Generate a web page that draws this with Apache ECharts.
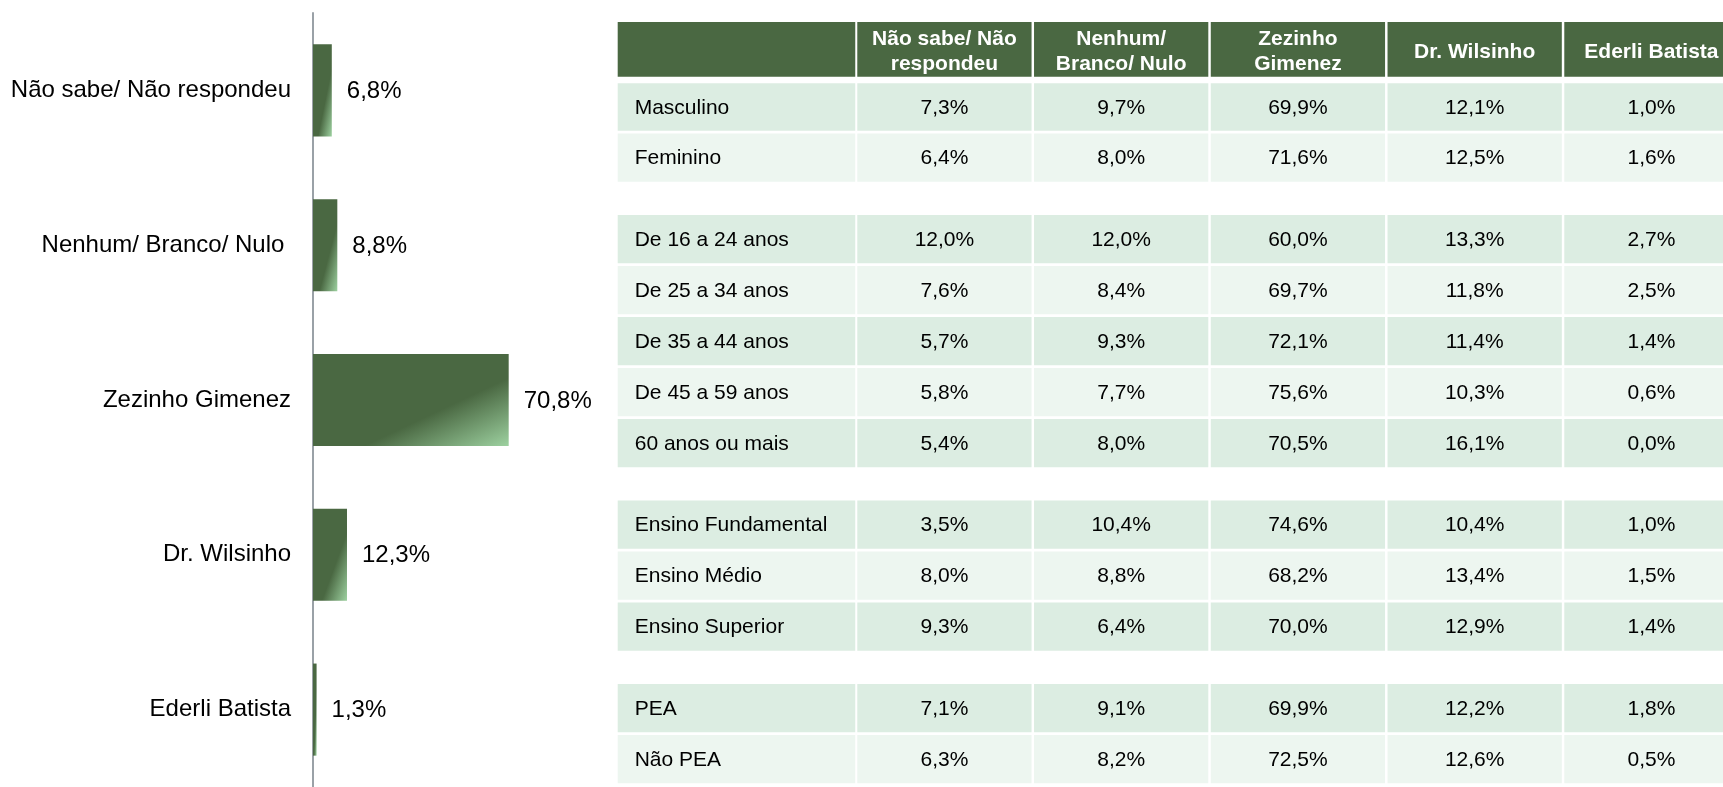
<!DOCTYPE html>
<html>
<head>
<meta charset="utf-8">
<script src="https://cdn.jsdelivr.net/npm/echarts@6/dist/echarts.min.js"></script>
<style>
  html, body { margin: 0; padding: 0; background: #fff; }
  #chart { width: 1723px; height: 787px; }
</style>
</head>
<body>
<div id="chart"></div>
<script>
// intenção de voto - total
const candidates = ['Não sabe/ Não respondeu', 'Nenhum/ Branco/ Nulo ', 'Zezinho Gimenez', 'Dr. Wilsinho', 'Ederli Batista'];
const totals = [6.8, 8.8, 70.8, 12.3, 1.3];

// tabela por segmento
const tableHeader = ['Não sabe/ Não\nrespondeu', 'Nenhum/\nBranco/ Nulo', 'Zezinho\nGimenez', 'Dr. Wilsinho', 'Ederli Batista'];
const rowLabels = ['Masculino', 'Feminino',
  'De 16 a 24 anos', 'De 25 a 34 anos', 'De 35 a 44 anos', 'De 45 a 59 anos', '60 anos ou mais',
  'Ensino Fundamental', 'Ensino Médio', 'Ensino Superior',
  'PEA', 'Não PEA'];
const rowGroup = [0, 0, 1, 1, 1, 1, 1, 2, 2, 2, 3, 3];
const naoSabe  = [7.3, 6.4, 12.0, 7.6, 5.7, 5.8, 5.4, 3.5, 8.0, 9.3, 7.1, 6.3];
const nenhum   = [9.7, 8.0, 12.0, 8.4, 9.3, 7.7, 8.0, 10.4, 8.8, 6.4, 9.1, 8.2];
const zezinho  = [69.9, 71.6, 60.0, 69.7, 72.1, 75.6, 70.5, 74.6, 68.2, 70.0, 69.9, 72.5];
const wilsinho = [12.1, 12.5, 13.3, 11.8, 11.4, 10.3, 16.1, 10.4, 13.4, 12.9, 12.2, 12.6];
const ederli   = [1.0, 1.6, 2.7, 2.5, 1.4, 0.6, 0.0, 1.0, 1.5, 1.4, 1.8, 0.5];

const columns = [naoSabe, nenhum, zezinho, wilsinho, ederli];

const FONT = '"Liberation Sans", Arial, sans-serif';
const DARK = '#4a6842';
const LIGHT = '#9dd1a0';
const BAND_A = '#dcede2';
const BAND_B = '#edf6f0';

function pct(v) {
  return v.toFixed(1).replace('.', ',') + '%';
}

// table layout, x in column pitch units (176.75px), y in row pitch units (51px)
const COL_PX = 176.75, ROW_PX = 51;
const TABLE_LEFT = 617.7, TABLE_W = 1723 - 617.7;
const LABEL_W = 1.344, DATA_X0 = 1.3555, CELL_W = 0.986;
const HEAD_H = 1.0725, ROW0 = 1.186, GROUP_GAP = 0.598, ROW_H = 0.947, ROW_MIN_TOP = 1.2;

const cells = [];
for (let c = -1; c < columns.length; c++) cells.push({ col: c, row: -1 });
rowLabels.forEach((_, r) => {
  for (let c = -1; c < columns.length; c++) cells.push({ col: c, row: r });
});

function cellRect(cell) {
  let x0, x1, y0, y1;
  if (cell.col < 0) { x0 = 0; x1 = LABEL_W; }
  else { x0 = DATA_X0 + cell.col; x1 = x0 + CELL_W; }
  if (cell.row < 0) { y0 = 0; y1 = HEAD_H; }
  else {
    const top = ROW0 + cell.row + rowGroup[cell.row] * GROUP_GAP;
    y1 = top + ROW_H;
    y0 = Math.max(top, ROW_MIN_TOP);
  }
  return { x0, x1, y0, y1 };
}

function firstInGroup(r) {
  let i = r;
  while (i > 0 && rowGroup[i - 1] === rowGroup[r]) i--;
  return r - i;
}

const chart = echarts.init(document.getElementById('chart'));

chart.setOption({
  backgroundColor: '#fff',
  animation: false,
  grid: [
    { left: 313, top: 13, width: 276.4, height: 779 },
    { left: TABLE_LEFT, top: 22, width: TABLE_W, height: 15 * ROW_PX }
  ],
  xAxis: [
    { gridIndex: 0, type: 'value', min: 0, max: 100, show: false },
    { gridIndex: 1, type: 'value', min: 0, max: TABLE_W / COL_PX, show: false }
  ],
  yAxis: [
    {
      gridIndex: 0, type: 'category', inverse: true, data: candidates,
      axisLine: { lineStyle: { color: '#9aa1a7', width: 2 } },
      axisTick: { length: 7, lineStyle: { color: '#9aa1a7', width: 2 } },
      splitLine: { show: false },
      axisLabel: { color: '#000', fontSize: 24, fontFamily: FONT, margin: 22 }
    },
    { gridIndex: 1, type: 'value', inverse: true, min: 0, max: 15, show: false }
  ],
  series: [
    {
      type: 'custom',
      xAxisIndex: 0, yAxisIndex: 0,
      clip: false,
      data: totals.map((v, i) => [v, i]),
      renderItem: function (params, api) {
        const v = api.value(0), idx = api.value(1);
        const s = api.coord([0, idx]);
        const e = api.coord([v, idx]);
        const h = api.size([0, 1])[1] * 0.595;
        const w = e[0] - s[0];
        const x = s[0], y = s[1] - h / 2;
        const L = Math.sqrt(w * w + h * h);
        const k = 2 * w * h / (L * L);
        const grad = new echarts.graphic.LinearGradient(
          x, y, x + h * k, y + w * k,
          [{ offset: 0, color: DARK }, { offset: 0.63, color: DARK }, { offset: 1, color: LIGHT }],
          true
        );
        return {
          type: 'group',
          children: [
            { type: 'rect', shape: { x: x, y: y, width: w, height: h }, style: { fill: grad } },
            {
              type: 'text',
              style: {
                text: pct(v), x: e[0] + 15, y: s[1] + 1,
                verticalAlign: 'middle', align: 'left',
                fontSize: 24, fontFamily: FONT, fill: '#000'
              }
            }
          ]
        };
      }
    },
    {
      type: 'custom',
      xAxisIndex: 1, yAxisIndex: 1,
      clip: false,
      data: cells.map(c => {
        const r = cellRect(c);
        return [(r.x0 + r.x1) / 2, (r.y0 + r.y1) / 2];
      }),
      renderItem: function (params, api) {
        const cell = cells[params.dataIndex];
        const r = cellRect(cell);
        const p0 = api.coord([r.x0, r.y0]);
        const p1 = api.coord([r.x1, r.y1]);
        const header = cell.row < 0;
        let fill, text = '', align = 'center', tx = (p0[0] + p1[0]) / 2;
        let ty = (p0[1] + p1[1]) / 2 + 1;
        if (header) {
          fill = DARK;
          text = cell.col < 0 ? '' : tableHeader[cell.col];
          ty = p0[1] + 30;
        } else {
          fill = firstInGroup(cell.row) % 2 === 0 ? BAND_A : BAND_B;
          if (cell.col < 0) {
            text = rowLabels[cell.row];
            align = 'left';
            tx = p0[0] + 17;
          } else {
            text = pct(columns[cell.col][cell.row]);
          }
        }
        return {
          type: 'group',
          children: [
            { type: 'rect', shape: { x: p0[0], y: p0[1], width: p1[0] - p0[0], height: p1[1] - p0[1] }, style: { fill: fill } },
            {
              type: 'text',
              style: {
                text: text, x: tx, y: ty, align: align, verticalAlign: 'middle',
                fontSize: 21, fontFamily: FONT,
                fontWeight: header ? 'bold' : 'normal',
                lineHeight: header ? 25 : 24,
                fill: header ? '#fff' : '#000'
              }
            }
          ]
        };
      }
    }
  ]
});
</script>
</body>
</html>
